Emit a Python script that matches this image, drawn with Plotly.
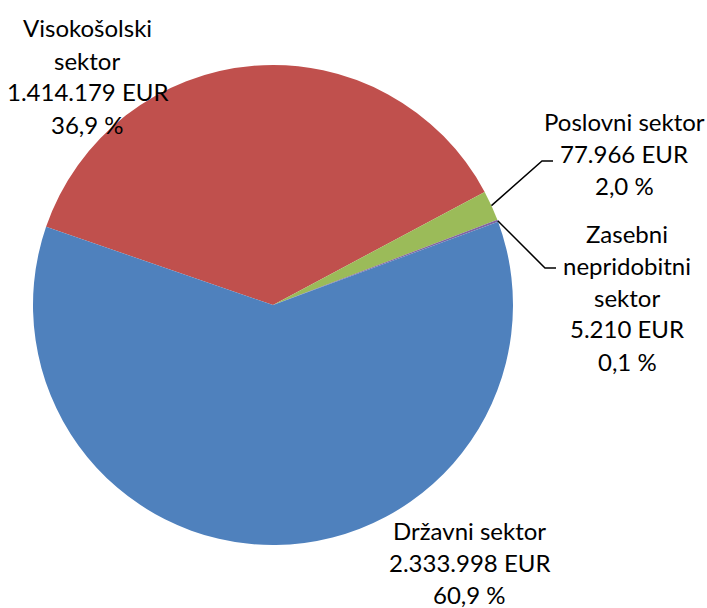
import math
import plotly.graph_objects as go

# ---- data ----
sectors = ["Visokošolski sektor", "Poslovni sektor", "Zasebni nepridobitni sektor", "Državni sektor"]
name_lines = [["Visokošolski", "sektor"], ["Poslovni sektor"],
              ["Zasebni", "nepridobitni", "sektor"], ["Državni sektor"]]
values_eur = [1414179, 77966, 5210, 2333998]
colors = ["#C0504D", "#9BBB59", "#8064A2", "#4F81BD"]

W, H = 707, 608
CX, CY, R = 273, 305, 240  # pie centre / radius in px
ROTATION = 289

# label blocks: centre x, first baseline y (px)
label_pos = [(87, 36), (624, 129), (627, 241), (469, 538)]
LINE_GAP = 32
BASE_TO_MID = 8
# leader line elbows (px) for small slices: (elbow, end)
leaders = {1: ((542, 161), (553, 161)), 2: ((545, 268), (556, 268))}

FONT = "Lato"
FS = 24

def fmt_int(v):
    return f"{v:,}".replace(",", ".")

total = sum(values_eur)
pcts = [v / total * 100 for v in values_eur]

fig = go.Figure(go.Pie(
    labels=sectors,
    values=values_eur,
    sort=False,
    direction="clockwise",
    rotation=ROTATION,
    marker=dict(colors=colors, line=dict(width=0)),
    textinfo="none",
    hoverinfo="label+value+percent",
    showlegend=False,
    domain=dict(x=[(CX - R) / W, (CX + R) / W], y=[1 - (CY + R) / H, 1 - (CY - R) / H]),
))

def px2paper(x, y):
    return x / W, 1 - y / H

annotations = []
for i, names in enumerate(name_lines):
    lines = names + [f"{fmt_int(values_eur[i])} EUR", f"{pcts[i]:.1f}".replace(".", ",") + " %"]
    cx, by = label_pos[i]
    for k, line in enumerate(lines):
        x, y = px2paper(cx, by + k * LINE_GAP - BASE_TO_MID)
        annotations.append(dict(x=x, y=y, xref="paper", yref="paper", text=line,
                                showarrow=False, xanchor="center", yanchor="middle",
                                align="center", font=dict(family=FONT, size=FS, color="black")))

shapes = []
cum = 0.0
for i, v in enumerate(values_eur):
    mid = ROTATION + (cum + v / 2) / total * 360
    cum += v
    if i in leaders:
        a = math.radians(mid)
        sx, sy = CX + R * math.sin(a), CY - R * math.cos(a)
        (ex, ey), (fx, fy) = leaders[i]
        pts = [(sx, sy), (ex, ey), (fx, fy)]
        path = "M " + " L ".join(f"{px2paper(px, py)[0]},{px2paper(px, py)[1]}" for px, py in pts)
        shapes.append(dict(type="path", xref="paper", yref="paper", path=path,
                           line=dict(color="black", width=1.5)))

fig.update_layout(
    width=W, height=H,
    margin=dict(l=0, r=0, t=0, b=0),
    paper_bgcolor="white",
    annotations=annotations,
    shapes=shapes,
)

fig.write_html("out.html", config={"displayModeBar": False},
               post_script="document.body.style.margin='0';")
